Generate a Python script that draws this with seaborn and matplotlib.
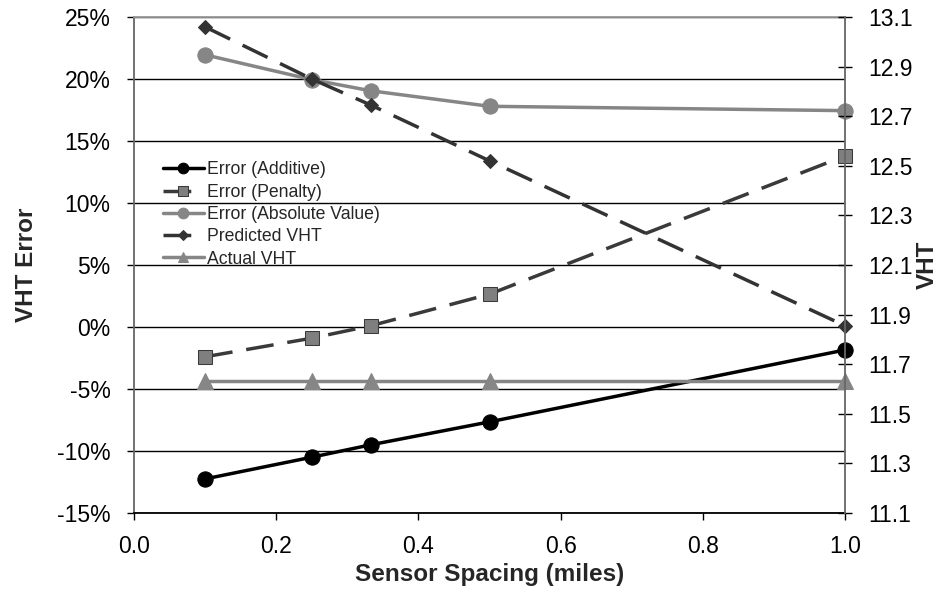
import matplotlib
matplotlib.use("Agg")
import matplotlib.pyplot as plt
import seaborn as sns
import pandas as pd
import numpy as np
from matplotlib.ticker import FuncFormatter, MultipleLocator, FixedLocator

spacing = [0.1, 0.25, 0.333, 0.5, 1.0]
err_additive = [-12.25, -10.5, -9.5, -7.65, -1.85]
err_penalty = [-2.4, -0.9, 0.1, 2.65, 13.8]
err_absolute = [21.95, 19.95, 19.05, 17.8, 17.45]
predicted_vht = [13.06, 12.85, 12.745, 12.52, 11.855]
actual_vht = [11.632, 11.632, 11.632, 11.632, 11.632]
right_ticks = [11.1, 11.3, 11.5, 11.7, 11.9, 12.1, 12.3, 12.5, 12.7, 12.9, 13.1]

sns.set_theme(style="white")
plt.rcParams['font.family'] = ['Liberation Sans', 'DejaVu Sans']

fig = plt.figure(figsize=(9.4, 5.97), dpi=100)
ax = fig.add_axes([0.1426, 0.1407, 0.7564, 0.8308])
ax2 = ax.twinx()

df = pd.DataFrame({"x": spacing, "add": err_additive, "pen": err_penalty,
                   "abs": err_absolute, "pred": predicted_vht, "act": actual_vht})

GRAY = "#868686"
sns.lineplot(data=df, x="x", y="add", ax=ax, color="black", lw=2.5, marker="o",
             markersize=11, markeredgecolor="black", label="Error (Additive)", legend=False)
sns.lineplot(data=df, x="x", y="pen", ax=ax, color="#3a3a3a", lw=2.5, marker="s",
             markersize=10, markerfacecolor="#7f7f7f", markeredgecolor="#3a3a3a",
             label="Error (Penalty)", legend=False)
ax.lines[-1].set_dashes([8, 4])
sns.lineplot(data=df, x="x", y="abs", ax=ax, color=GRAY, lw=2.5, marker="o",
             markersize=11, markeredgecolor=GRAY, label="Error (Absolute Value)", legend=False)

sns.lineplot(data=df, x="x", y="pred", ax=ax2, color="#333333", lw=2.5, marker="D",
             markersize=7, markeredgecolor="#333333", label="Predicted VHT", legend=False)
ax2.lines[-1].set_dashes([8, 4])
sns.lineplot(data=df, x="x", y="act", ax=ax2, color=GRAY, lw=2.5, marker="^",
             markersize=11, markeredgecolor=GRAY, label="Actual VHT", legend=False)

for ln in ax.lines + ax2.lines:
    ln.set_clip_on(False)

ax.set_xlim(0, 1.0)
ax.set_ylim(-15, 25)
ax2.set_ylim(11.1, 13.1)
ax.xaxis.set_major_locator(MultipleLocator(0.2))
ax.yaxis.set_major_locator(MultipleLocator(5))
ax2.yaxis.set_major_locator(FixedLocator(right_ticks))
ax.xaxis.set_major_formatter(FuncFormatter(lambda v, p: f"{v:.1f}"))
ax.yaxis.set_major_formatter(FuncFormatter(lambda v, p: f"{v:.0f}%"))
ax2.yaxis.set_major_formatter(FuncFormatter(lambda v, p: f"{v:.1f}"))

ax.grid(axis="y", color="black", lw=1.0)
ax.grid(axis="x", visible=False)
ax2.grid(False)

ax.spines["right"].set_visible(False)
ax2.spines["left"].set_visible(False)
ax2.spines["bottom"].set_visible(False)
ax.spines["top"].set_visible(True)
ax.spines["top"].set_color("#999999")
ax.spines["top"].set_linewidth(1.3)
ax2.spines["top"].set_visible(False)
ax.spines["left"].set_color("#666666")
ax.spines["left"].set_linewidth(1.3)
ax2.spines["right"].set_color("#666666")
ax2.spines["right"].set_linewidth(1.3)
ax.spines["bottom"].set_color("black")
ax.spines["bottom"].set_linewidth(1.3)

ax.tick_params(axis="both", labelsize=16.5, colors="black", length=5, width=1, direction="out",
               left=True, bottom=True)
ax.tick_params(axis="y", pad=12)
ax.tick_params(axis="x", pad=11)
ax2.tick_params(axis="y", labelsize=16.5, colors="black", length=10, width=1, direction="inout",
                right=True, pad=12)

ax.set_xlabel("Sensor Spacing (miles)", fontsize=17.5, fontweight="bold")
ax.set_ylabel("VHT Error", fontsize=17.5, fontweight="bold")
ax2.set_ylabel("VHT", fontsize=17.5, fontweight="bold")
ax.xaxis.set_label_coords(0.5, -0.1)
ax.yaxis.set_label_coords(-0.135, 0.5)
ax2.yaxis.set_label_coords(1.1, 0.5)

h1, l1 = ax.get_legend_handles_labels()
h2, l2 = ax2.get_legend_handles_labels()
leg = ax2.legend(h1 + h2, l1 + l2, loc="upper left", bbox_to_anchor=(0.0408, 0.7087),
                 frameon=False, fontsize=12.7, handlelength=2.3, handletextpad=0.2,
                 labelspacing=0.3, markerscale=0.7, borderpad=0, borderaxespad=0)

fig.savefig("out.png", dpi=100)
